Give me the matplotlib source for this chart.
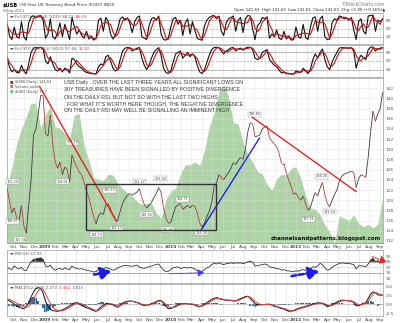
import matplotlib
matplotlib.use("Agg")
import matplotlib.pyplot as plt
import matplotlib.dates as mdates
from matplotlib.collections import LineCollection
from matplotlib.patches import Rectangle, FancyArrowPatch
from matplotlib import font_manager
import numpy as np
import pandas as pd

# weekly closes of $USB
price = [122.4, 120.0, 117.5, 118.5, 116.5, 116.0, 119.0, 115.0, 113.5, 119.0,
         124.0, 132.8, 134.0, 137.0, 140.6, 140.5, 133.0, 132.6, 136.7, 131.0,
         127.5, 126.3, 127.5, 125.0, 126.5, 126.0, 123.6, 128.9, 127.5, 126.5,
         125.5, 125.0, 123.5, 121.8, 120.5, 118.5, 116.8, 115.3, 117.0, 117.5,
         117.2, 119.0, 119.3, 118.3, 117.0, 116.2, 116.2, 117.8, 119.4, 120.3,
         121.0, 121.3, 121.0, 121.3, 121.6, 122.3, 120.5, 119.2, 118.5, 119.0,
         119.6, 120.5, 121.3, 122.5, 121.5, 118.5, 116.5, 115.5, 115.6, 117.2,
         118.7, 119.0, 119.4, 118.2, 118.6, 119.0, 118.5, 119.0, 118.8, 117.5,
         115.6, 114.7, 115.5, 116.8, 117.8, 119.5, 122.7, 123.4, 125.0, 124.5,
         124.0, 124.8, 125.4, 126.3, 127.4, 127.0, 127.8, 128.4, 128.0, 130.0,
         133.4, 135.2, 135.0, 132.5, 132.6, 132.8, 134.0, 134.4, 134.6, 132.2,
         131.6, 131.0, 130.5, 129.2, 127.2, 127.2, 125.3, 124.0, 122.7, 121.2,
         121.4, 120.5, 120.0, 120.8, 119.3, 118.0, 118.6, 120.2, 121.5, 120.8,
         122.3, 123.5, 121.0, 119.4, 118.7, 120.0, 121.1, 122.0, 123.7, 124.7,
         125.1, 125.3, 125.5, 125.7, 125.5, 122.5, 124.2, 125.0, 124.8, 124.5,
         128.5, 133.5, 137.5, 135.5, 137.0, 138.0, 141.2]

# $USD overlay (green area), every two weeks
usd = [78.4, 80.2, 82.7, 84.3, 85.6, 87.0, 87.0, 84.4, 85.8, 86.7,
       84.5, 84.4, 83.8, 83.3, 85.8, 85.9, 82.5, 81.0, 79.1, 79.0,
       78.8, 79.5, 79.4, 78.5, 78.0, 77.5, 77.2, 76.6, 76.3, 76.4,
       76.4, 75.4, 74.8, 76.8, 77.7, 78.0, 79.5, 80.5, 80.5, 80.8,
       80.4, 82.0, 84.5, 86.0, 88.3, 89.0, 87.7, 85.0, 84.8, 82.9,
       81.6, 80.8, 79.8, 79.5, 78.4, 77.8, 79.0, 79.5, 79.4, 80.1,
       80.3, 79.1, 77.2, 75.9, 75.8, 75.2, 74.1, 73.4, 72.2, 75.1,
       74.8, 74.6, 75.2, 74.3, 73.9, 74.2, 73.8, 74.2, 77.0]

sto_fast_k = [70, 25, 10, 55, 20, 15, 75, 20, 8, 70,
              92, 96, 88, 95, 97, 80, 15, 30, 85, 20,
              12, 35, 70, 20, 65, 40, 10, 90, 55, 30,
              45, 25, 15, 40, 12, 20, 8, 15, 80, 88,
              40, 90, 75, 30, 12, 25, 50, 85, 92, 80,
              88, 70, 35, 75, 90, 95, 20, 15, 10, 60,
              85, 90, 80, 95, 30, 10, 8, 15, 55, 85,
              90, 65, 80, 25, 70, 85, 30, 75, 45, 15,
              10, 8, 60, 80, 90, 95, 97, 85, 95, 40,
              25, 70, 85, 90, 95, 40, 80, 90, 35, 85,
              97, 95, 50, 10, 60, 70, 90, 85, 92, 15,
              30, 20, 45, 15, 10, 40, 12, 20, 8, 10,
              55, 20, 15, 65, 18, 10, 55, 88, 92, 40,
              85, 95, 20, 10, 12, 70, 85, 80, 95, 92,
              85, 88, 80, 90, 45, 10, 75, 85, 40, 30,
              95, 97, 98, 40, 80, 75, 84]
sto_fast_d = [60, 45, 35, 30, 28, 30, 37, 37, 34, 33,
              57, 86, 92, 93, 93, 91, 64, 42, 43, 45,
              39, 22, 39, 42, 52, 42, 38, 47, 52, 58,
              43, 33, 28, 27, 22, 24, 13, 14, 34, 61,
              69, 73, 68, 65, 39, 22, 29, 53, 76, 86,
              87, 79, 64, 60, 67, 87, 68, 43, 15, 28,
              52, 78, 85, 88, 68, 45, 16, 11, 26, 52,
              77, 80, 78, 57, 58, 60, 62, 63, 50, 45,
              23, 11, 26, 49, 77, 88, 94, 92, 92, 73,
              53, 45, 60, 82, 90, 75, 72, 70, 68, 70,
              72, 92, 81, 52, 40, 47, 73, 82, 89, 64,
              46, 22, 32, 27, 23, 22, 21, 24, 13, 13,
              24, 28, 30, 33, 33, 31, 28, 51, 78, 73,
              72, 73, 67, 42, 14, 31, 56, 78, 87, 89,
              91, 88, 84, 86, 72, 48, 43, 57, 67, 52,
              55, 74, 97, 78, 73, 65, 87]
sto_slow_k = [60, 30, 12, 20, 10, 8, 35, 15, 5, 40,
              80, 95, 97, 96, 98, 92, 50, 40, 65, 40,
              20, 15, 25, 12, 25, 20, 8, 60, 55, 40,
              30, 25, 15, 10, 8, 6, 5, 5, 30, 40,
              35, 65, 70, 50, 25, 15, 20, 55, 85, 95,
              97, 96, 85, 90, 95, 97, 60, 35, 20, 35,
              60, 80, 90, 97, 70, 25, 10, 6, 15, 45,
              75, 80, 85, 60, 70, 80, 65, 75, 65, 35,
              12, 6, 20, 45, 70, 90, 97, 98, 97, 85,
              75, 85, 90, 96, 97, 85, 92, 95, 88, 95,
              98, 98, 90, 60, 55, 60, 80, 85, 90, 55,
              45, 35, 30, 18, 8, 10, 6, 5, 5, 4,
              15, 12, 10, 25, 15, 6, 20, 55, 75, 60,
              80, 92, 55, 30, 20, 45, 65, 80, 95, 97,
              96, 95, 95, 97, 85, 25, 55, 70, 62, 55,
              90, 98, 99, 85, 92, 95, 97]
sto_slow_d = [65, 45, 34, 21, 14, 13, 18, 19, 18, 20,
              42, 72, 91, 96, 97, 95, 80, 61, 52, 48,
              42, 25, 20, 17, 21, 19, 18, 30, 41, 52,
              42, 32, 23, 17, 11, 8, 6, 5, 13, 25,
              35, 47, 57, 62, 48, 30, 20, 30, 53, 78,
              92, 96, 93, 90, 90, 94, 84, 64, 38, 30,
              38, 58, 77, 89, 86, 64, 35, 14, 10, 22,
              45, 67, 80, 75, 72, 70, 72, 73, 68, 58,
              37, 18, 13, 24, 45, 68, 86, 95, 97, 93,
              86, 82, 83, 90, 94, 93, 91, 91, 92, 93,
              94, 97, 95, 83, 68, 58, 65, 75, 85, 77,
              63, 45, 37, 28, 19, 12, 8, 7, 5, 5,
              8, 10, 12, 16, 17, 15, 14, 27, 50, 63,
              72, 82, 76, 59, 35, 32, 43, 63, 80, 91,
              96, 96, 95, 96, 92, 69, 55, 50, 62, 62,
              69, 81, 96, 94, 92, 91, 96]
rsi = [52, 45, 42, 55, 48, 44, 50, 40, 38, 55,
       70, 78, 80, 82, 84, 78, 55, 52, 58, 45,
       40, 44, 46, 42, 48, 44, 42, 55, 48, 46,
       44, 45, 42, 40, 38, 36, 33, 35, 42, 40,
       44, 50, 46, 44, 40, 42, 48, 52, 55, 57,
       56, 55, 54, 56, 58, 50, 48, 46, 50, 52,
       55, 58, 60, 62, 50, 40, 35, 36, 42, 48,
       50, 52, 46, 48, 50, 47, 50, 48, 44, 38,
       35, 36, 42, 48, 52, 60, 64, 62, 66, 62,
       60, 63, 64, 66, 64, 66, 65, 66, 63, 66,
       70, 72, 68, 55, 56, 58, 60, 62, 60, 52,
       50, 48, 46, 44, 40, 42, 38, 37, 36, 34,
       38, 36, 40, 42, 38, 36, 45, 52, 50, 55,
       64, 60, 48, 40, 42, 50, 56, 60, 64, 66,
       65, 63, 64, 62, 60, 44, 55, 56, 54, 52,
       62, 76, 82, 70, 74, 66, 67]
macd = [1.3, 0.9, 0.5, 0.0, -0.5, -0.9, -1.1, -1.3, -0.6, 0.4,
        2.0, 3.4, 4.3, 4.6, 4.4, 3.1, 0.8, -0.5, -1.4, -1.8,
        -1.9, -2.0, -1.8, -1.6, -1.3, -0.9, -0.5, -0.1, 0.3, 0.4,
        0.1, -0.4, -0.7, -1.0, -1.2, -1.5, -1.8, -2.0, -1.4, -0.8,
        -0.3, 0.1, 0.2, 0.0, -0.2, -0.6, -0.9, -0.2, 0.3, 0.6,
        0.8, 0.9, 0.8, 0.6, 0.4, 0.2, -0.2, -0.4, -0.3, -0.2,
        0.1, 0.4, 0.7, 1.0, 1.0, 0.2, -0.6, -1.3, -1.2, -0.9,
        -0.5, -0.1, 0.0, 0.1, 0.2, 0.1, 0.0, 0.0, -0.3, -0.6,
        -0.7, -0.4, 0.0, 0.4, 0.9, 1.3, 1.6, 1.8, 1.6, 1.3,
        1.2, 1.1, 1.1, 1.0, 0.9, 0.9, 1.2, 1.6, 1.8, 2.1,
        2.2, 1.6, 0.9, 0.1, -0.1, -0.2, -0.2, -0.1, 0.0, 0.0,
        -0.3, -0.6, -0.7, -1.0, -1.2, -1.4, -1.7, -2.0, -1.9, -1.8,
        -1.5, -1.2, -1.0, -0.8, -0.6, -0.4, -0.2, 0.0, 0.2, 0.4,
        0.3, 0.2, -0.2, -0.7, -0.5, -0.2, 0.2, 0.6, 0.9, 1.1,
        1.1, 1.0, 0.9, 0.8, 0.5, -0.4, -0.5, -0.1, 0.2, 0.4,
        1.6, 2.8, 3.4, 3.2, 2.6, 2.5, 2.5]
macd_signal = [1.5, 1.3, 1.0, 0.7, 0.3, -0.1, -0.5, -0.8, -0.9, -0.6,
               0.2, 1.4, 2.7, 3.7, 4.3, 4.1, 2.9, 1.5, 0.2, -0.8,
               -1.4, -1.8, -1.9, -1.8, -1.6, -1.3, -0.9, -0.5, -0.1, 0.2,
               0.3, 0.1, -0.3, -0.6, -0.9, -1.2, -1.5, -1.8, -1.7, -1.3,
               -0.8, -0.3, 0.0, 0.1, 0.0, -0.3, -0.6, -0.5, -0.1, 0.3,
               0.6, 0.8, 0.8, 0.7, 0.5, 0.3, 0.0, -0.2, -0.3, -0.2,
               -0.1, 0.2, 0.5, 0.8, 0.9, 0.6, 0.0, -0.7, -1.0, -1.0,
               -0.8, -0.4, -0.2, 0.0, 0.1, 0.1, 0.1, 0.0, -0.1, -0.4,
               -0.6, -0.6, -0.3, 0.1, 0.5, 0.9, 1.3, 1.6, 1.6, 1.5,
               1.3, 1.2, 1.1, 1.1, 1.0, 0.9, 1.0, 1.3, 1.6, 1.9,
               2.1, 2.0, 1.5, 0.8, 0.3, 0.0, -0.1, -0.1, -0.1, -0.1,
               -0.2, -0.4, -0.6, -0.8, -1.0, -1.2, -1.4, -1.7, -1.9, -1.9,
               -1.7, -1.4, -1.2, -1.0, -0.8, -0.6, -0.4, -0.2, 0.0, 0.2,
               0.3, 0.3, 0.1, -0.3, -0.5, -0.4, -0.1, 0.3, 0.6, 0.9,
               1.0, 1.0, 1.0, 0.9, 0.7, 0.2, -0.2, -0.2, 0.0, 0.2,
               0.8, 1.8, 2.8, 3.2, 3.0, 2.7, 2.5]

# boxed high/low values printed on the price panel
price_labels = [("2008-09-27", 123.6, "122.39"), ("2008-09-27", 115.9, "118.07"),
                ("2008-10-20", 112.2, "113.36"), ("2009-03-20", 131.4, "129.19"),
                ("2009-02-20", 123.6, "124.01"), ("2009-07-07", 122.0, "120.53"),
                ("2009-05-30", 113.2, "114.73"), ("2009-07-27", 114.5, "115.13"),
                ("2009-10-02", 123.6, "122.57"), ("2009-12-02", 124.2, "123.24"),
                ("2009-10-23", 117.1, "118.34"), ("2009-12-23", 114.2, "115.06"),
                ("2010-02-04", 120.2, "119.71"), ("2010-03-31", 113.6, "114.38"),
                ("2010-09-01", 136.9, "136.44"), ("2011-03-15", 124.7, "124.26"),
                ("2011-02-05", 116.3, "117.61"), ("2011-04-07", 117.7, "119.50")]

note = ("USB Daily . OVER THE LAST THREE YEARS ALL SIGNIFICANT LOWS ON\n"
        "30Y TREASURIES HAVE BEEN SIGNALLED BY POSITIVE DIVERGENCE\n"
        "ON THE DAILY RSI, BUT NOT SO WITH THE LAST TWO HIGHS\n"
        ". FOR WHAT IT'S WORTH HERE THOUGH, THE NEGATIVE DIVERGENCE\n"
        "ON THE DAILY RSI MAY WELL BE SIGNALLING AN IMMINENT HIGH")

dates = pd.date_range("2008-09-12", periods=len(price), freq="7D")
usd_dates = pd.date_range("2008-09-12", periods=len(usd), freq="14D")
xd = mdates.date2num(dates)
xu = mdates.date2num(usd_dates)

names = {f.name for f in font_manager.fontManager.ttflist}
narrow = "Liberation Sans Narrow" if "Liberation Sans Narrow" in names else "Liberation Sans"

W, H = 400, 323
fig = plt.figure(figsize=(W / 100, H / 100), dpi=100)
fig.patch.set_facecolor("white")


def px_axes(x0, y0, x1, y1):
    return fig.add_axes([x0 / W, 1 - y1 / H, (x1 - x0) / W, (y1 - y0) / H])


months = pd.date_range("2008-10-01", "2011-09-01", freq="MS")
month_labels = [str(m.year) if m.month == 1 else m.strftime("%b") for m in months]
xlim = (xd[0], xd[-1] + 1)
GRID = "#dcdcdc"


def style(ax, yticks, fmt="{:g}", xlabels=False):
    ax.set_xlim(*xlim)
    for s in ax.spines.values():
        s.set_color("#9a9a9a")
        s.set_linewidth(0.5)
    ax.yaxis.tick_right()
    ax.set_yticks(yticks)
    ax.set_yticklabels([fmt.format(v) for v in yticks])
    ax.tick_params(axis="y", length=0, pad=2, labelsize=3.2, labelcolor="#555555")
    ax.set_xticks(mdates.date2num(months))
    ax.tick_params(axis="x", length=0, pad=1.5, labelsize=3.2, labelcolor="#444444")
    if xlabels:
        ax.set_xticklabels(month_labels)
        for t in ax.get_xticklabels():
            if t.get_text().isdigit():
                t.set_fontweight("bold")
    else:
        ax.set_xticklabels([])
    ax.grid(axis="x", color=GRID, lw=0.4)


def panel_label(ax, parts):
    # pieces of the panel title placed one after another
    prev = ax.text(0.008, 0.93, "\u25ac ", transform=ax.transAxes, fontsize=2.8,
                   color="#555555", va="top")
    for s, c in parts:
        prev = ax.annotate(s, xy=(1, 0), xycoords=prev, va="bottom",
                           fontsize=2.8, color=c)


# header
hdr = fig.add_axes([0, 0, 1, 1])
hdr.axis("off")
hdr.set_zorder(-1)
t0 = hdr.text(3 / W, 1 - 5 / H, "$USB", fontsize=3.6, fontweight="bold", va="center")
hdr.annotate(" (30-Year US Treasury Bond Price (EOD)) INDX", xy=(1, 0.5),
             xycoords=t0, va="center", fontsize=3.1, color="#333333")
hdr.text(3 / W, 1 - 11 / H, "9-Sep-2011", fontsize=2.8, va="center", color="#555555")
hdr.text(385 / W, 1 - 4 / H, "\u00a9StockCharts.com", fontsize=3.3, ha="right",
         va="center", color="#777777")
hdr.text(385 / W, 1 - 10.5 / H,
         "Open 141.63  High 141.63  Low 141.63  Close 141.63  Chg +1.90 (+0.36%)\u25b2",
         fontsize=2.8, ha="right", va="center", color="#222222")

# fast stochastic
ax1 = px_axes(7, 13, 383, 44)
style(ax1, [20, 50, 80])
ax1.set_ylim(-6, 106)
for lv in (20, 80):
    ax1.axhline(lv, color="#a0a0a0", lw=0.5)
ax1.axhline(50, color="#a0a0a0", lw=0.5, ls=(0, (3, 2)))
ax1.plot(xd, sto_fast_k, color="#111111", lw=0.8)
ax1.plot(xd, sto_fast_d, color="#cc1111", lw=0.8)
panel_label(ax1, [("Full STO %K(5,3) %D(3) 84.23, ", "#555555"), ("86.59", "#dd3333")])

# slow stochastic
ax2 = px_axes(7, 45, 383, 77)
style(ax2, [20, 50, 80])
ax2.set_ylim(-6, 106)
for lv in (20, 80):
    ax2.axhline(lv, color="#a0a0a0", lw=0.5)
ax2.axhline(50, color="#a0a0a0", lw=0.5, ls=(0, (3, 2)))
ax2.plot(xd, sto_slow_k, color="#111111", lw=0.8)
ax2.plot(xd, sto_slow_d, color="#cc1111", lw=0.8)
panel_label(ax2, [("Full STO %K(14,3) %D(3) 97.46, ", "#555555"), ("96.92", "#dd3333")])

# main panel: green $USD area underneath, price on top
axu = px_axes(7, 78, 383, 243)
axu.set_xlim(*xlim)
axu.set_ylim(72.2, 89.7)
axu.fill_between(xu, usd, 60, color="#add3a7", lw=0)
axu.axis("off")

ax = px_axes(7, 78, 383, 243)
ax.patch.set_visible(False)
style(ax, list(range(112, 143, 2)), xlabels=True)
ax.set_ylim(111.6, 144.0)
ax.grid(axis="y", color=GRID, lw=0.4)
ax.set_axisbelow(False)
for gl in ax.get_xgridlines() + ax.get_ygridlines():
    gl.set_alpha(0.7)

pts = np.column_stack([xd, price])
segs = np.stack([pts[:-1], pts[1:]], axis=1)
cols = ["#b83a3a" if b < a else "#3a3a3a" for a, b in zip(price[:-1], price[1:])]
ax.add_collection(LineCollection(segs, colors=cols, linewidths=0.6, zorder=3))

for d, p, s in price_labels:
    ax.text(mdates.datestr2num(d), p, s, fontsize=2.4, ha="center", va="center",
            color="#444444", zorder=4,
            bbox=dict(boxstyle="square,pad=0.15", fc="white", ec="#999999", lw=0.3))

ax.plot(mdates.datestr2num(["2008-12-17", "2009-07-27"]), [142.2, 115.9],
        color="#ee1111", lw=0.9, zorder=5)
ax.plot(mdates.datestr2num(["2010-08-26", "2011-06-24"]), [136.3, 121.7],
        color="#ee1111", lw=0.9, zorder=5)
ax.plot(mdates.datestr2num(["2010-03-31", "2010-09-16"]), [114.2, 132.2],
        color="#1111ee", lw=0.9, zorder=5)
r0 = mdates.datestr2num("2009-04-30")
r1 = mdates.datestr2num("2010-05-12")
ax.add_patch(Rectangle((r0, 114.2), r1 - r0, 9.0, fill=False, ec="#333333",
                       lw=1.0, zorder=5))

ax.text((64 - 7) / 376, 0.99, note, transform=ax.transAxes, fontsize=3.75,
        family=[narrow, "DejaVu Sans"], color="#3a3a3a", va="top", ha="left",
        linespacing=1.55, zorder=6)
legend_rows = [("\u25a0 ", "#cc2222", "$USB (Daily) 141.63"),
               ("\u25a0 ", "#888888", "Volume undef"),
               ("\u25a0 ", "#7fb878", "$USD (Daily) 74.?")]
for i, (mk, c, s) in enumerate(legend_rows):
    yy = 0.985 - i * 0.028
    ax.text(0.008, yy, mk, transform=ax.transAxes, fontsize=2.6, color=c, va="top")
    ax.text(0.02, yy, s, transform=ax.transAxes, fontsize=2.6, color="#444444",
            va="top")
ax.text(0.995, 0.012, "channelsandpatterns.blogspot.com", transform=ax.transAxes,
        fontsize=4.0, fontweight="bold", color="#111111", ha="right", va="bottom",
        zorder=6)

# RSI
ax3 = px_axes(7, 250, 383, 283)
style(ax3, [10, 30, 50, 70, 90])
ax3.set_ylim(-6, 112)
for lv in (30, 70):
    ax3.axhline(lv, color="#909090", lw=0.5)
ax3.axhline(50, color="#b0b0b0", lw=0.4, ls=(0, (3, 2)))
ax3.plot(xd, rsi, color="#222222", lw=0.55)
r = np.array(rsi, dtype=float)
ax3.fill_between(xd, r, 70, where=r > 70, interpolate=True, color="#333333", lw=0)
panel_label(ax3, [("RSI(14) 67.02", "#555555")])


def arrow(a, b, color, lw, ls, head):
    ax3.add_patch(FancyArrowPatch(
        (mdates.datestr2num(a[0]), a[1]), (mdates.datestr2num(b[0]), b[1]),
        arrowstyle=f"-|>,head_length={head},head_width={head * 0.6}",
        color=color, lw=lw, ls=ls, mutation_scale=4, clip_on=False, zorder=6))


arrow(("2009-05-15", 22), ("2009-07-20", 38), "#1a1aee", 1.8, (0, (2, 1)), 1.6)
arrow(("2009-12-20", 27), ("2010-04-16", 31), "#3b3bee", 0.7, (0, (1, 1)), 0.9)
arrow(("2010-12-10", 17), ("2011-03-16", 37), "#1a1aee", 1.8, (0, (2, 1)), 1.6)
arrow(("2011-08-02", 92), ("2011-09-28", 65), "#ee2222", 0.7, (0, (2, 1)), 1.0)

# MACD
ax4 = px_axes(7, 284, 383, 316)
style(ax4, [-2.5, 0.0, 2.5, 5.0], fmt="{:.1f}", xlabels=True)
ax4.set_ylim(-3.3, 5.6)
ax4.axhline(0, color="#9a9a9a", lw=0.4)
hist = np.array(macd) - np.array(macd_signal)
ax4.bar(xd, hist, width=6, color="#2f6aa3", lw=0)
ax4.plot(xd, macd, color="#111111", lw=0.7)
ax4.plot(xd, macd_signal, color="#e04040", lw=0.7)
panel_label(ax4, [("MACD(12,26,9) 2.477, ", "#555555"), ("2.462, ", "#dd3333"),
                  ("0.015", "#3366aa")])

fig.savefig("out.png", dpi=100, facecolor="white")
